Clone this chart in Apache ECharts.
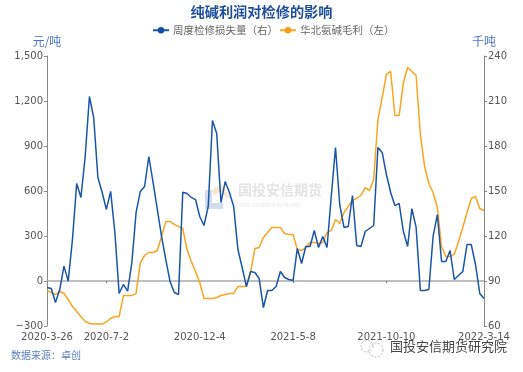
<!DOCTYPE html>
<html><head><meta charset="utf-8">
<style>html,body{margin:0;padding:0;background:#fff}#c{width:523px;height:372px}</style>
<script src="https://cdn.jsdelivr.net/npm/echarts@6/dist/echarts.min.js"></script>
</head><body><div id="c"></div>
<script>
var title='纯碱利润对检修的影响';
var blueName='周度检修损失量（右）';
var orangeName='华北氨碱毛利（左）';
var tickIndex=[0,14,36,58,80,103];
var tickLabels=['2020-3-26','2020-7-2','2020-12-4','2021-5-8','2021-10-10','2022-3-14'];
var blue=[85.7,85,75.7,84.3,99.9,89.9,117.7,155,145.7,173,213,199,159,149,137.7,149.7,122.3,81.7,87.7,83.2,
102.3,135.7,149.7,153,173,155.7,137.7,119.7,104.3,89.7,82.3,81,149.2,148.3,145.7,144.3,133,127,139.7,197,
188.3,142.3,156.3,149,139.7,111,99,86.3,96.3,95.7,91.7,72.3,83.7,83.7,86.3,96.3,92.3,91,90.3,111.7,
101.7,113,113,123.7,112.3,119.7,112.3,146.3,179,141,125.7,126.3,147,113.7,113,123,125,127,179,175.7,
161,149,140.3,141.7,123,113,138.3,125.7,83.7,83.7,84.3,119.7,134.3,103,103,110.3,91,93.7,96.3,114.3,
114.3,101,81.7,78.3];
var orange=[-63,-77,-90,-70,-83,-123,-170,-203,-237,-270,-283,-287,-287,-287,-273,-250,-237,-237,-97,-97,
-97,-83,123,170,190,190,203,297,397,397,377,363,350,210,130,63,-10,-117,-117,-117,
-110,-97,-90,-83,-83,-37,-37,-37,63,217,223,290,323,357,357,357,317,310,310,210,
203,223,257,257,250,257,323,337,410,383,457,497,539,550,570,623,603,677,1077,1223,
1377,1397,1103,1103,1323,1423,1397,1370,977,763,650,590,490,230,163,163,177,263,357,457,
550,563,483,470];
var categories=blue.map(function(_,i){var k=tickIndex.indexOf(i);return k>=0?tickLabels[k]:'w'+i;});
function isTick(i){return tickIndex.indexOf(i)>=0;}
var chart=echarts.init(document.getElementById('c'),null,{renderer:'canvas'});
var cjk='"Noto Sans CJK SC","Noto Sans",sans-serif';
var num='"DejaVu Sans",sans-serif';
chart.setOption({
 animation:false,backgroundColor:'#fff',
 title:{text:title,left:'center',top:0,textStyle:{fontFamily:cjk,fontSize:14.2,fontWeight:'bold',color:'#1d4d9b'}},
 legend:{top:20,left:147,itemGap:1,itemWidth:16,itemHeight:8,
  textStyle:{fontFamily:cjk,fontSize:10.5,color:'#666',padding:[0,0,0,-1]},
  data:[blueName,orangeName]},
 grid:{left:47,right:39,top:56,height:270,containLabel:false},
 xAxis:[
  {type:'category',boundaryGap:false,data:categories,position:'bottom',
   axisLine:{show:false,onZero:false},axisTick:{show:false},
   axisLabel:{interval:function(i){return isTick(i);},fontFamily:num,fontSize:10,color:'#555',margin:6,hideOverlap:false}},
  {type:'category',boundaryGap:false,data:categories,position:'bottom',
   axisLine:{show:true,onZero:true,onZeroAxisIndex:0,lineStyle:{color:'#aaa',width:1.5}},
   axisTick:{show:true,interval:function(i){return isTick(i)&&i>0&&i<103;},length:2,inside:false,lineStyle:{color:'#777'}},
   axisLabel:{show:false}}
 ],
 yAxis:[
  {type:'value',min:-300,max:1500,interval:300,position:'left',
   name:'元/吨',nameLocation:'end',nameGap:9,nameTextStyle:{fontFamily:cjk,fontSize:12,color:'#4a74cf',align:'center'},
   splitLine:{show:false},
   axisLine:{show:true,lineStyle:{color:'#888'}},axisTick:{show:true,length:3,lineStyle:{color:'#888'}},
   axisLabel:{fontFamily:num,fontSize:10,color:'#555',margin:4,formatter:function(v){return v.toLocaleString('en-US').replace('-','−');}}},
  {type:'value',min:60,max:240,interval:30,position:'right',
   name:'千吨',nameLocation:'end',nameGap:9,nameTextStyle:{fontFamily:cjk,fontSize:12,color:'#4a74cf',align:'center'},
   splitLine:{show:false},
   axisLine:{show:true,lineStyle:{color:'#888'}},axisTick:{show:true,length:3,lineStyle:{color:'#888'}},
   axisLabel:{fontFamily:num,fontSize:10,color:'#555',margin:4}}
 ],
 graphic:[
  {type:'polygon',silent:true,z:0,shape:{points:[[205,190],[212,190],[212,203],[223,203],[223,209],[205,209]]},style:{fill:'#d3dcef'}},
  {type:'polygon',silent:true,z:0,shape:{points:[[212,190],[221,184],[231,198],[226,198],[220,191],[214,196]]},style:{fill:'#fbe7cf'}},
  {type:'text',silent:true,z:0,left:238,top:183,style:{text:'国投安信期货',fontFamily:cjk,fontSize:14,fontWeight:'bold',fill:'#e4e4e4'}},
  {type:'text',silent:true,z:0,left:239,top:203,style:{text:'SDIC ESSENCE FUTURES',fontFamily:num,fontSize:5,fill:'#e8e8e8'}},
  {type:'text',silent:true,left:11,top:350,style:{text:'数据来源：卓创',fontFamily:cjk,fontSize:10,fill:'#5a7fbd'}},
  {type:'circle',silent:true,shape:{cx:367,cy:346,r:6},style:{fill:'none',stroke:'#bbb',lineDash:[2,1.5],lineWidth:1}},
  {type:'circle',silent:true,shape:{cx:376,cy:350,r:7},style:{fill:'none',stroke:'#bbb',lineDash:[2,1.5],lineWidth:1}},
  {type:'text',silent:true,left:390,top:340,style:{text:'国投安信期货研究院',fontFamily:cjk,fontSize:13,fill:'#444'}}
 ],
 series:[
  {name:blueName,type:'line',xAxisIndex:0,yAxisIndex:1,data:blue,symbol:'circle',symbolSize:8,showSymbol:false,z:3,
   itemStyle:{color:'#0f4ea3'},lineStyle:{color:'#1b55a8',width:1.5}},
  {name:orangeName,type:'line',xAxisIndex:0,yAxisIndex:0,data:orange,symbol:'circle',symbolSize:8,showSymbol:false,z:2,
   itemStyle:{color:'#f59c12'},lineStyle:{color:'#f8a51f',width:1.5}}
 ]
});
</script></body></html>
